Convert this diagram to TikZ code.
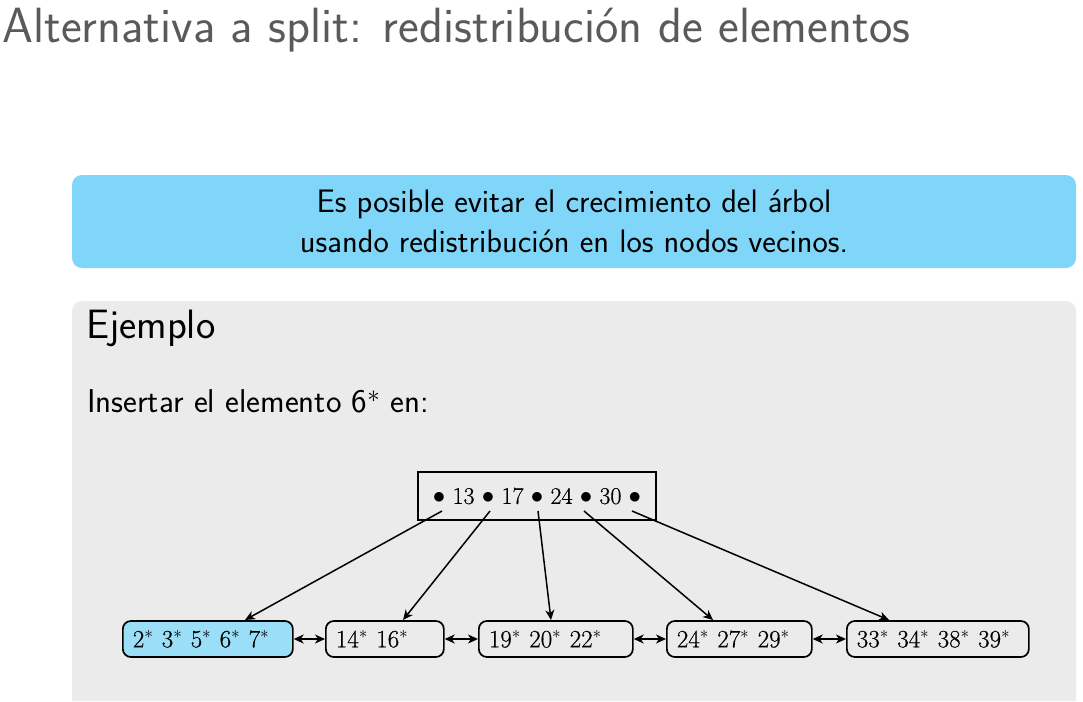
\documentclass[tikz,border=0pt]{standalone}
\usepackage{fontspec}
\usetikzlibrary{arrows.meta}
\newfontfamily\treefont[FakeBold=0.5]{Latin Modern Roman}
\definecolor{titlegray}{RGB}{90,90,90}
\definecolor{boxblue}{RGB}{128,214,248}
\definecolor{leafblue}{RGB}{155,222,247}
\definecolor{panelgray}{RGB}{235,235,235}
\tikzset{
  bluebox/.style={fill=boxblue, rounded corners=10pt, minimum width=1004pt, minimum height=93pt, align=center, font=\sffamily\fontsize{32.5}{40}\selectfont, inner sep=0pt},
  leaf/.style={draw, line width=1.7pt, rounded corners=8pt, minimum height=36pt, inner sep=0pt, inner xsep=10pt, align=left, anchor=west, font=\treefont\fontsize{25}{26}\selectfont, fill=panelgray},
  rootbox/.style={draw, line width=1.7pt, minimum width=238pt, minimum height=48pt, inner sep=0pt, font=\treefont\fontsize{24}{26}\selectfont, fill=panelgray},
  link/.style={line width=1.5pt, -{Stealth[length=10pt,width=9pt,inset=3pt]}},
  dlink/.style={line width=1.5pt, {Stealth[length=10pt,width=9pt,inset=3pt]}-{Stealth[length=10pt,width=9pt,inset=3pt]}},
}
\begin{document}
\begin{tikzpicture}[x=1pt,y=-1pt]
\useasboundingbox (0,0) rectangle (1083,701);
\node[anchor=base west, inner sep=0pt, text=titlegray, font=\sffamily\fontsize{49.5}{56}\selectfont] (title) at (2,42) {Alternativa a split: redistribución de elementos};
\node[bluebox] (note) at (574,221.5) {\raisebox{-2pt}{Es posible evitar el crecimiento del árbol}\\\raisebox{-2pt}{usando redistribución en los nodos vecinos.}};
\fill[panelgray] (72,701) [rounded corners=10pt] -- (72,301) -- (1076,301) [sharp corners] -- (1076,701) -- cycle;
\node[anchor=base west, inner sep=0pt, font=\sffamily\fontsize{41}{48}\selectfont] (ej) at (86,338) {Ejemplo};
\node[anchor=base west, inner sep=0pt, font=\sffamily\fontsize{33}{38}\selectfont] (ins) at (87,412) {Insertar el elemento 6$^{*}$ en:};
\node[rootbox] (root) at (537,496) {$\bullet$ 13 $\bullet$ 17 $\bullet$ 24 $\bullet$ 30 $\bullet$};
\node[leaf, fill=leafblue, text width=150pt] (l1) at (122,639) {2$^*$ 3$^*$ 5$^*$ 6$^*$ 7$^*$};
\node[leaf, text width=98pt] (l2) at (325,639) {14$^*$ 16$^*$};
\node[leaf, text width=134pt] (l3) at (478,639) {19$^*$ 20$^*$ 22$^*$};
\node[leaf, text width=125pt] (l4) at (666,639) {24$^*$ 27$^*$ 29$^*$};
\node[leaf, text width=162pt] (l5) at (846,639) {33$^*$ 34$^*$ 38$^*$ 39$^*$};
\coordinate (b1) at (442,511);
\coordinate (b2) at (490,511);
\coordinate (b3) at (538,511);
\coordinate (b4) at (584,511);
\coordinate (b5) at (632,511);
\coordinate (t1) at (245,620);
\coordinate (t2) at (403,620);
\coordinate (t3) at (551,620);
\coordinate (t4) at (713,620);
\coordinate (t5) at (889,620);
\draw[link] (b1) -- (t1);
\draw[link] (b2) -- (t2);
\draw[link] (b3) -- (t3);
\draw[link] (b4) -- (t4);
\draw[link] (b5) -- (t5);
\draw[dlink] (l1) -- (l2);
\draw[dlink] (l2) -- (l3);
\draw[dlink] (l3) -- (l4);
\draw[dlink] (l4) -- (l5);
\end{tikzpicture}
\end{document}
